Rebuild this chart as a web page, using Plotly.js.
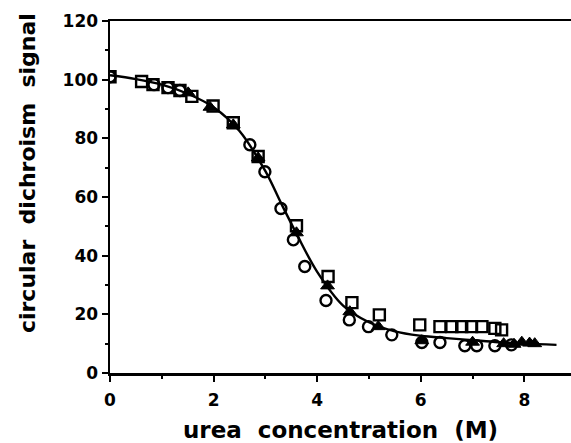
<!DOCTYPE html>
<html><head><meta charset="utf-8">
<script src="https://cdn.plot.ly/plotly-3.0.1.min.js"></script>
<style>html,body{margin:0;padding:0;background:#fff}#chart{width:571px;height:443px}</style>
</head><body><div id="chart"></div>
<script>
const squareX = [0, 0.61, 0.83, 1.12, 1.35, 1.58, 1.99, 2.38, 2.86, 3.60, 4.21, 4.67, 5.20, 5.98, 6.37, 6.60, 6.79, 6.98, 7.18, 7.43, 7.56];
const squareY = [101, 99.4, 98.3, 97.3, 96.3, 94.3, 91, 85.3, 73.8, 50.2, 32.9, 24, 19.8, 16.4, 15.8, 15.8, 15.8, 15.8, 15.8, 15.2, 14.7];
const circleX = [0, 0.85, 1.12, 1.35, 2.70, 2.99, 3.30, 3.54, 3.76, 4.17, 4.62, 4.99, 5.44, 6.02, 6.37, 6.85, 7.08, 7.43, 7.75];
const circleY = [101, 98.3, 97.3, 96.3, 77.8, 68.6, 56.1, 45.4, 36.3, 24.7, 18.1, 15.8, 13, 10.4, 10.4, 9.3, 9.3, 9.3, 9.6];
const triX = [1.51, 1.93, 2.38, 2.86, 3.60, 4.20, 4.63, 5.18, 6.02, 7.00, 7.60, 7.80, 7.95, 8.10, 8.20];
const triY = [95.5, 90.6, 84.6, 73.3, 47.8, 29.7, 20.9, 15.8, 11, 10.5, 10, 9.8, 10.5, 10.2, 10];
const fitX = [0, 0.5, 1, 1.5, 2, 2.5, 3, 3.3, 3.6, 4, 4.5, 5, 5.5, 6, 6.5, 7, 7.5, 8, 8.62];
const fitY = [101.5, 100.2, 98.3, 95.2, 90.6, 82.5, 68.8, 58, 47.5, 34.5, 23, 17.3, 14.2, 12.7, 11.9, 11.2, 10.5, 10, 9.6];
const xTicks = [0, 2, 4, 6, 8];
const yTicks = [0, 20, 40, 60, 80, 100, 120];

const fnt = {family: '"DejaVu Sans", "Liberation Sans", Arial, sans-serif', color: '#000'};
const sp = '\u00A0\u00A0';
const traces = [
  {x: fitX, y: fitY, mode: 'lines', line: {color: '#000', width: 2.4, shape: 'spline', smoothing: 1}, hoverinfo: 'skip'},
  {x: squareX, y: squareY, mode: 'markers', marker: {symbol: 'square-open', size: 11, color: '#000', line: {width: 2.4, color: '#000'}}},
  {x: circleX, y: circleY, mode: 'markers', marker: {symbol: 'circle-open', size: 11, color: '#000', line: {width: 2.4, color: '#000'}}},
  {x: triX, y: triY, mode: 'markers', marker: {symbol: 'triangle-up', size: 12, color: '#000', line: {width: 1, color: '#000'}}}
];
const layout = {
  width: 571, height: 443,
  margin: {l: 110, r: 0, t: 21, b: 70},
  paper_bgcolor: '#fff', plot_bgcolor: '#fff',
  showlegend: false,
  font: Object.assign({size: 17, weight: 'bold'}, fnt),
  xaxis: {
    range: [0, 8.9], tickvals: xTicks, ticktext: xTicks.map(String),
    showgrid: false, zeroline: false, showline: true, linecolor: '#000', linewidth: 2.5, mirror: true,
    ticks: 'outside', ticklen: 6, tickwidth: 2, tickcolor: '#000', ticklabelstandoff: 4,
    minor: {dtick: 1, tick0: 0, ticks: 'outside', ticklen: 3, tickwidth: 2, tickcolor: '#000', showgrid: false},
    tickfont: Object.assign({size: 17, weight: 'bold'}, fnt),
    title: {text: 'urea' + sp + 'concentration' + sp + '(M)', font: Object.assign({size: 23, weight: 'bold'}, fnt), standoff: 14}
  },
  yaxis: {
    range: [0, 120], tickvals: yTicks, ticktext: yTicks.map(String),
    showgrid: false, zeroline: false, showline: true, linecolor: '#000', linewidth: 2.5,
    ticks: 'outside', ticklen: 6, tickwidth: 2, tickcolor: '#000',
    minor: {dtick: 10, tick0: 0, ticks: 'outside', ticklen: 3, tickwidth: 2, tickcolor: '#000', showgrid: false},
    tickfont: Object.assign({size: 17, weight: 'bold'}, fnt)
  },
  annotations: [{
    text: 'circular' + sp + 'dichroism' + sp + 'signal', textangle: -90,
    xref: 'paper', yref: 'paper', x: -0.18, y: 0.568, xanchor: 'center', yanchor: 'middle',
    showarrow: false, font: Object.assign({size: 22, weight: 'bold'}, fnt)
  }]
};
Plotly.newPlot('chart', traces, layout, {staticPlot: true});
</script></body></html>
